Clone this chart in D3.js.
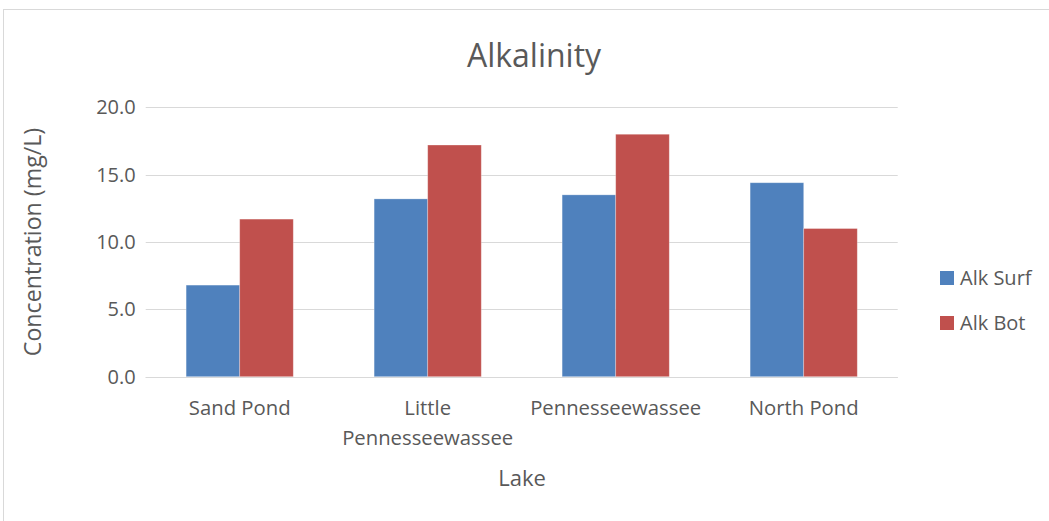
<!DOCTYPE html>
<html>
<head>
<meta charset="utf-8">
<script src="https://cdn.jsdelivr.net/npm/d3@7"></script>
<style>
  html, body { margin: 0; padding: 0; background: #fff; }
  svg { display: block; font-family: "Open Sans", sans-serif; }
</style>
</head>
<body>
<svg id="chart" width="1049" height="521"></svg>
<script>
// Alkalinity by lake, surface vs bottom samples
const lakes = ["Sand Pond", "Little Pennesseewassee", "Pennesseewassee", "North Pond"];
const lakeLines = [["Sand Pond"], ["Little", "Pennesseewassee"], ["Pennesseewassee"], ["North Pond"]];
const seriesNames = ["Alk Surf", "Alk Bot"];
const alkSurf = [6.8, 13.2, 13.5, 14.4];
const alkBot = [11.7, 17.2, 18.0, 11.0];
const yTicks = [0, 5, 10, 15, 20];
const colors = ["#4F81BD", "#C0504D"];

const svg = d3.select("#chart");
const textColor = "#595959";

// chart frame
svg.append("rect")
  .attr("x", 3.5).attr("y", 9.5)
  .attr("width", 1060).attr("height", 530)
  .attr("fill", "#fff").attr("stroke", "#d9d9d9").attr("stroke-width", 1);

const plot = { left: 145.7, right: 897.7, top: 107.3, bottom: 376.7 };

const x = d3.scaleBand().domain(lakes).range([plot.left, plot.right])
  .paddingInner(0.43).paddingOuter(0.215);
const xs = d3.scaleBand().domain(seriesNames).range([0, x.bandwidth()]);
const y = d3.scaleLinear().domain([0, 20]).range([plot.bottom, plot.top]);

// gridlines
svg.append("g").selectAll("line").data(yTicks).join("line")
  .attr("x1", plot.left).attr("x2", plot.right)
  .attr("y1", d => Math.round(y(d)) + 0.5).attr("y2", d => Math.round(y(d)) + 0.5)
  .attr("stroke", "#d9d9d9").attr("stroke-width", 1.2);

// y axis labels
const yAxis = d3.axisLeft(y).tickValues(yTicks).tickFormat(d3.format(".1f")).tickSize(0).tickPadding(10);
const gy = svg.append("g").attr("transform", `translate(${plot.left},0)`).call(yAxis);
gy.select(".domain").remove();
gy.selectAll("text").attr("fill", textColor).attr("font-size", 20).attr("font-family", "'Open Sans', sans-serif");

// bars
const series = [alkSurf, alkBot];
const groups = svg.append("g").selectAll("g").data(lakes).join("g")
  .attr("transform", d => `translate(${x(d)},0)`);
groups.selectAll("rect")
  .data((d, i) => seriesNames.map((s, j) => ({ s, v: series[j][i], c: colors[j] })))
  .join("rect")
  .attr("x", d => xs(d.s))
  .attr("width", xs.bandwidth())
  .attr("y", d => y(d.v))
  .attr("height", d => y(0) - y(d.v))
  .attr("fill", d => d.c)
  .attr("stroke", "rgba(255,255,255,0.35)").attr("stroke-width", 0.8);

// baseline
svg.append("line")
  .attr("x1", plot.left).attr("x2", plot.right)
  .attr("y1", Math.round(y(0)) + 0.5).attr("y2", Math.round(y(0)) + 0.5)
  .attr("stroke", "#d9d9d9").attr("stroke-width", 1.2);

// x category labels
const xl = svg.append("g").selectAll("text").data(lakes).join("text")
  .attr("x", d => x(d) + x.bandwidth() / 2)
  .attr("y", 415)
  .attr("text-anchor", "middle")
  .attr("fill", textColor).attr("font-size", 20.3);
xl.selectAll("tspan").data((d, i) => lakeLines[i]).join("tspan")
  .attr("x", function () { return d3.select(this.parentNode).attr("x"); })
  .attr("dy", (d, i) => i === 0 ? 0 : 30)
  .text(d => d);

// title
svg.append("text").attr("x", 534).attr("y", 67).attr("text-anchor", "middle")
  .attr("fill", textColor).attr("font-size", 32).text("Alkalinity");

// axis titles
svg.append("text").attr("x", 522).attr("y", 486).attr("text-anchor", "middle")
  .attr("fill", textColor).attr("font-size", 22).text("Lake");
svg.append("text").attr("transform", "translate(41,242) rotate(-90)")
  .attr("text-anchor", "middle")
  .attr("fill", textColor).attr("font-size", 23.2).text("Concentration (mg/L)");

// legend
const lg = svg.append("g").selectAll("g").data(seriesNames).join("g")
  .attr("transform", (d, i) => `translate(940,${271 + i * 45})`);
lg.append("rect").attr("width", 14).attr("height", 14).attr("fill", (d, i) => colors[i]);
lg.append("text").attr("x", 20).attr("y", 14).attr("fill", textColor)
  .attr("font-size", 20).text(d => d);
</script>
</body>
</html>
